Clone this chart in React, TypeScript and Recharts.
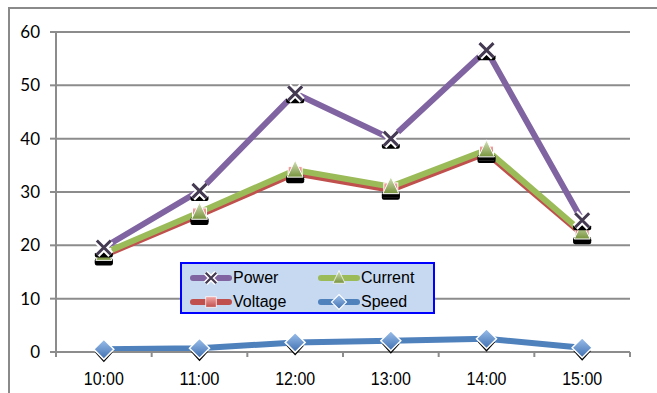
import { CartesianGrid, Legend, Line, LineChart, XAxis, YAxis } from "recharts";

const hours = ["10:00", "11:00", "12:00", "13:00", "14:00", "15:00"];
const power = [19.6, 30.2, 48.5, 40, 56.6, 24.7];
const current = [18.5, 26.2, 34.1, 31, 37.9, 22.5];
const voltage = [18.1, 25.7, 33.5, 30.4, 37.3, 22.1];
const speed = [0.5, 0.7, 1.8, 2.1, 2.5, 0.8];
const yTicks = [0, 10, 20, 30, 40, 50, 60];

const data = hours.map((h, i) => ({
  hour: h,
  power: power[i],
  current: current[i],
  voltage: voltage[i],
  speed: speed[i],
}));

const W = 657;
const H = 393;
const M = { top: 32, right: 27, left: 0, bottom: 0 };
const Y_W = 56;
const BAND = (W - M.right - M.left - Y_W) / hours.length;

const PURPLE = "#8064a2";
const GREEN = "#9bbb59";
const RED = "#c0504d";
const BLUE = "#4f81bd";
const GRID = "#8c8c8c";

const xPath = (cx: number, cy: number, r: number) =>
  `M${cx - r},${cy - r}L${cx + r},${cy + r}M${cx + r},${cy - r}L${cx - r},${cy + r}`;

const XMark = ({ cx, cy, shadow = true }: any) => (
  <g>
    {shadow && <rect x={cx - 9} y={cy + 4} width={18} height={6} rx={2} fill="#000" />}
    <path d={xPath(cx, cy, 7)} stroke="#fff" strokeWidth={7} />
    <path d={xPath(cx, cy, 7)} stroke="#443a52" strokeWidth={3} />
  </g>
);

const TriMark = ({ cx, cy, shadow = true }: any) => (
  <g>
    {shadow && <rect x={cx - 9} y={cy + 5} width={18} height={6} rx={2} fill="#000" />}
    <path d={`M${cx},${cy - 10}L${cx + 8},${cy + 7}L${cx - 8},${cy + 7}Z`} fill="url(#gGreen)" stroke="#fff" strokeWidth={1} />
  </g>
);

const SqMark = ({ cx, cy, shadow = true }: any) => (
  <g>
    {shadow && <rect x={cx - 9} y={cy + 4} width={18} height={6} rx={2} fill="#000" />}
    <rect x={cx - 7} y={cy - 7} width={14} height={14} fill="url(#gRed)" stroke="#fff" strokeWidth={1} />
  </g>
);

const DiaMark = ({ cx, cy, shadow = true }: any) => (
  <g>
    {shadow && <path d={`M${cx - 9},${cy + 3}L${cx},${cy + 13}L${cx + 9},${cy + 3}Z`} fill="#000" />}
    <path d={`M${cx},${cy - 10}L${cx + 10},${cy}L${cx},${cy + 10}L${cx - 10},${cy}Z`} fill="url(#gBlue)" stroke="#fff" strokeWidth={1.5} />
  </g>
);

const XTick = ({ x, y, payload, index }: any) => (
  <g>
    <line x1={x - BAND / 2} y1={y - 8} x2={x - BAND / 2} y2={y - 3} stroke={GRID} strokeWidth={2} />
    {index === hours.length - 1 && (
      <line x1={x + BAND / 2} y1={y - 8} x2={x + BAND / 2} y2={y - 3} stroke={GRID} strokeWidth={2} />
    )}
    <text
      x={x}
      y={y + 25}
      textAnchor="middle"
      fontSize={18}
      fill="#000"
      fontFamily="Arial, 'Liberation Sans', sans-serif"
      textLength={40}
      lengthAdjust="spacingAndGlyphs"
    >
      {payload.value}
    </text>
  </g>
);

const legendItems = [
  { name: "Power", color: PURPLE, Mark: XMark, col: 0, row: 0 },
  { name: "Current", color: GREEN, Mark: TriMark, col: 1, row: 0 },
  { name: "Voltage", color: RED, Mark: SqMark, col: 0, row: 1 },
  { name: "Speed", color: BLUE, Mark: DiaMark, col: 1, row: 1 },
];

const LegendBox = () => (
  <div
    style={{
      width: 251,
      height: 48,
      background: "#c6d9f1",
      border: "2px solid #0000ff",
      position: "relative",
      fontFamily: "Arial, 'Liberation Sans', sans-serif",
      fontSize: 16,
    }}
  >
    {legendItems.map((it) => (
      <div key={it.name} style={{ position: "absolute", left: 8 + it.col * 128, top: 3 + it.row * 24, height: 22, display: "flex", alignItems: "center" }}>
        <svg width={42} height={22}>
          <line x1={3} y1={11} x2={39} y2={11} stroke={it.color} strokeWidth={6} strokeLinecap="round" />
          <g transform="translate(21 11) scale(0.75) translate(-21 -11)">
            <it.Mark cx={21} cy={11} shadow={false} />
          </g>
        </svg>
        <span style={{ marginLeft: 1 }}>{it.name}</span>
      </div>
    ))}
  </div>
);

export default function App() {
  return (
    <div style={{ position: "absolute", left: 0, top: 0, width: W, height: H, overflow: "hidden", background: "#fff" }}>
      <div style={{ position: "absolute", left: 8, top: 7, width: 800, height: 600, border: "2px solid #8a8a8a" }} />
      <div style={{ position: "absolute", left: 0, top: 0 }}>
        <LineChart width={W} height={H} data={data} margin={M}>
          <defs>
            <linearGradient id="gGreen" x1="0" y1="0" x2="0" y2="1">
              <stop offset="0%" stopColor="#d7e4bd" />
              <stop offset="100%" stopColor="#77933c" />
            </linearGradient>
            <linearGradient id="gRed" x1="0" y1="0" x2="0" y2="1">
              <stop offset="0%" stopColor="#f2a7a5" />
              <stop offset="100%" stopColor="#c0504d" />
            </linearGradient>
            <linearGradient id="gBlue" x1="0" y1="0" x2="0" y2="1">
              <stop offset="0%" stopColor="#9cc0ec" />
              <stop offset="100%" stopColor="#3f6fb0" />
            </linearGradient>
          </defs>
          <CartesianGrid vertical={false} stroke={GRID} strokeWidth={2} />
          <XAxis
            dataKey="hour"
            height={41}
            stroke={GRID}
            strokeWidth={2}
            tickLine={false}
            tick={<XTick />}
            interval={0}
            padding={{ left: BAND / 2, right: BAND / 2 }}
          />
          <YAxis
            width={Y_W}
            domain={[0, 60]}
            ticks={yTicks}
            stroke={GRID}
            strokeWidth={2}
            tickSize={6}
            tickMargin={10}
            tick={{ fill: "#000", fontSize: 17, fontFamily: "Lato, Arial, sans-serif" }}
          />
          <Line dataKey="speed" stroke={BLUE} strokeWidth={6} isAnimationActive={false} dot={(p: any) => <DiaMark key={p.index} {...p} />} />
          <Line dataKey="voltage" stroke={RED} strokeWidth={6} isAnimationActive={false} dot={(p: any) => <SqMark key={p.index} {...p} />} />
          <Line dataKey="current" stroke={GREEN} strokeWidth={6} isAnimationActive={false} dot={(p: any) => <TriMark key={p.index} {...p} />} />
          <Line dataKey="power" stroke={PURPLE} strokeWidth={6} isAnimationActive={false} dot={(p: any) => <XMark key={p.index} {...p} />} />
          <Legend
            verticalAlign="middle"
            align="center"
            content={() => <LegendBox />}
            wrapperStyle={{ position: "absolute", left: 180, top: 262, width: 255, height: 52 }}
          />
        </LineChart>
      </div>
    </div>
  );
}
